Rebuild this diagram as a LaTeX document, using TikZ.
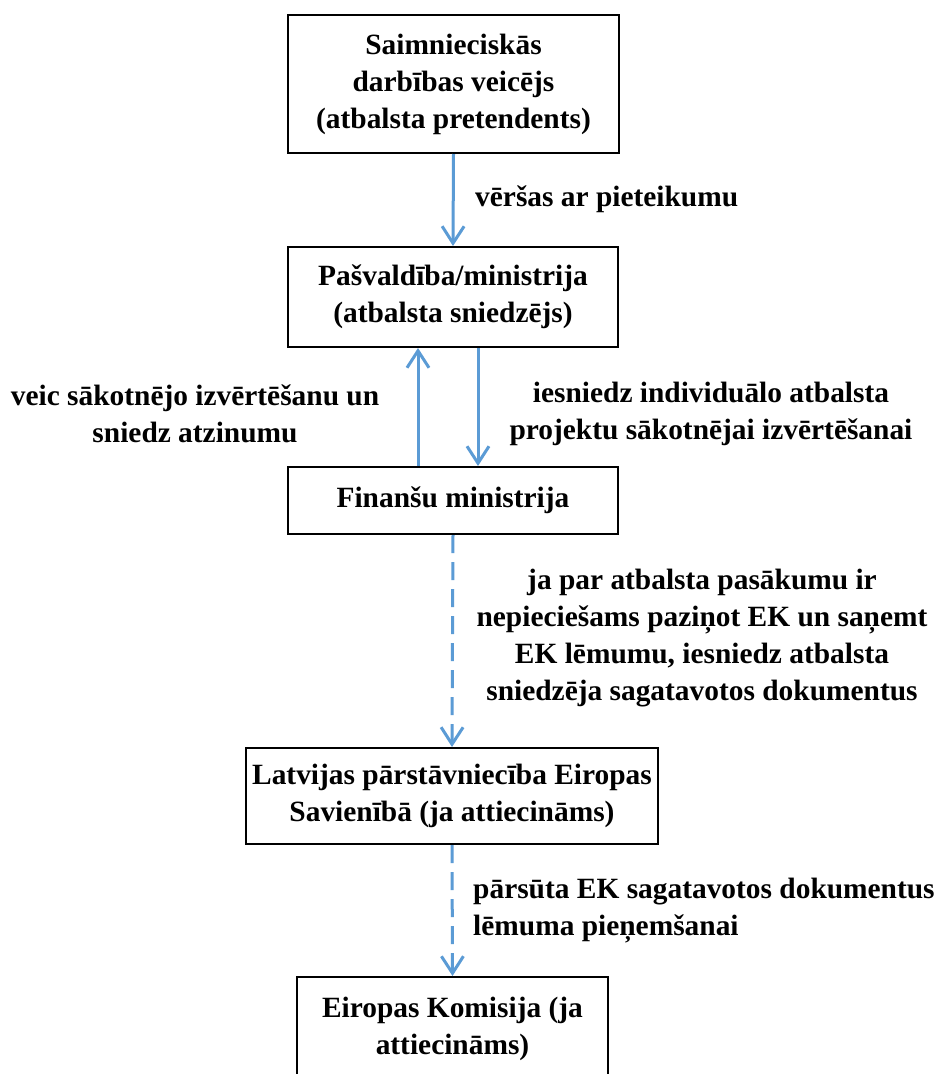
\documentclass[tikz,border=0pt]{standalone}
\usepackage{fontspec}
\setmainfont{Liberation Serif}
\usetikzlibrary{arrows.meta}
\definecolor{arrowblue}{RGB}{91,155,213}
\tikzset{
  box/.style={draw=black, line width=2pt, inner sep=0pt, align=center,
    font=\fontsize{29.4}{37}\selectfont\bfseries},
  lbl/.style={inner sep=0pt, font=\fontsize{29.4}{37}\selectfont\bfseries},
  flow/.style={draw=arrowblue, line width=3pt,
    -{Straight Barb[length=17pt,width=22pt]}},
  dflow/.style={flow, dash pattern=on 18pt off 9pt},
}
\begin{document}
\begin{tikzpicture}[x=1pt,y=-1pt]
\useasboundingbox (0,0) rectangle (934,1074);
\fill[white] (0,0) rectangle (934,1074);
\node[box, minimum width=331pt, minimum height=138pt] (b1) at (453.5,84)
  {Saimnieciskās\\darbības veicējs\\(atbalsta pretendents)};
\node[box, minimum width=330pt, minimum height=100pt] (b2) at (453,297)
  {Pašvaldība/ministrija\\(atbalsta sniedzējs)};
\node[box, minimum width=330pt, minimum height=67pt] (b3) at (453,500.5)
  {Finanšu ministrija};
\node[box, minimum width=412pt, minimum height=96pt] (b4) at (452,796)
  {Latvijas pārstāvniecība Eiropas\\Savienībā (ja attiecināms)};
\node[box, minimum width=311pt, minimum height=104pt] (b5) at (452.5,1029)
  {Eiropas Komisija (ja\\attiecināms)};

\draw[flow] (b1.south) -- (b2.north);
\draw[flow] ([xshift=-35pt]b3.north) -- ([xshift=-35pt]b2.south);
\draw[flow] ([xshift=25pt]b2.south) -- ([xshift=25pt]b3.north);
\draw[dflow] (b3.south) -- (b4.north);
\draw[dflow] (b4.south) -- (b5.north);

\node[lbl, anchor=west] (l1) at (475,199) {vēršas ar pieteikumu};
\node[lbl, align=center] (l2) at (195,414)
  {veic sākotnējo izvērtēšanu un\\sniedz atzinumu};
\node[lbl, align=center] (l3) at (711,414)
  {iesniedz individuālo atbalsta\\projektu sākotnējai izvērtēšanai};
\node[lbl, align=center] (l4) at (702,638)
  {ja par atbalsta pasākumu ir\\nepieciešams paziņot EK un saņemt\\EK lēmumu, iesniedz atbalsta\\sniedzēja sagatavotos dokumentus};
\node[lbl, align=left, anchor=west] (l5) at (473,911)
  {pārsūta EK sagatavotos dokumentus\\lēmuma pieņemšanai};
\end{tikzpicture}
\end{document}
